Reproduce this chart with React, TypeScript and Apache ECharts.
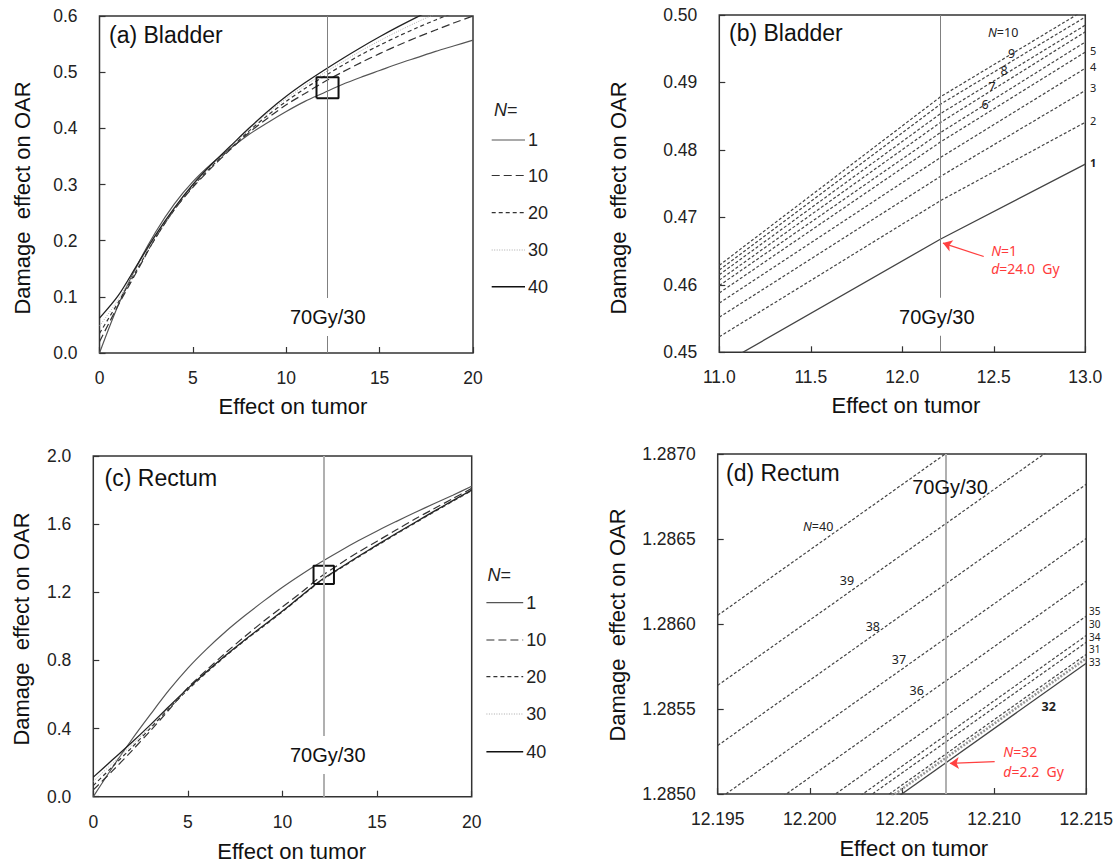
import React, { useEffect, useRef } from 'react';
import * as echarts from 'echarts';

const FONT = '"Liberation Sans", Arial, Helvetica, sans-serif';
const SMALL = '"Noto Sans", "Open Sans", sans-serif';

// ---------- Panel (a) Bladder ----------
const aX = [0, 1, 2, 3, 4, 5, 6, 7, 8, 9, 10, 11, 12, 13, 14, 15, 16, 17, 18, 19, 20];
const aN1 = [0, 0.085, 0.155, 0.215, 0.265, 0.305, 0.337, 0.364, 0.389, 0.41, 0.43, 0.448, 0.463, 0.478, 0.491, 0.503, 0.515, 0.526, 0.537, 0.547, 0.557];
const aN10 = [0.02, 0.085, 0.145, 0.205, 0.255, 0.295, 0.33, 0.362, 0.392, 0.418, 0.442, 0.462, 0.482, 0.5, 0.517, 0.533, 0.548, 0.562, 0.575, 0.588, 0.6];
const aN20 = [0.035, 0.09, 0.148, 0.205, 0.255, 0.297, 0.332, 0.364, 0.395, 0.423, 0.448, 0.471, 0.492, 0.512, 0.531, 0.548, 0.564, 0.579, 0.593, 0.606, 0.618];
const aN30 = [0.048, 0.095, 0.152, 0.207, 0.256, 0.298, 0.334, 0.366, 0.398, 0.427, 0.453, 0.476, 0.498, 0.518, 0.538, 0.556, 0.573, 0.589, 0.604, 0.618, 0.631];
const aN40 = [0.062, 0.102, 0.156, 0.21, 0.258, 0.3, 0.336, 0.368, 0.4, 0.43, 0.457, 0.481, 0.503, 0.524, 0.544, 0.563, 0.581, 0.598, 0.614, 0.629, 0.643];
const aVline = 12.21;
const aBoxX = [11.62, 12.8, 12.8, 11.62, 11.62];
const aBoxY = [0.4535, 0.4535, 0.491, 0.491, 0.4535];

// ---------- Panel (b) Bladder zoom ----------
const bX = [11, 12.21, 13];
const bN1 = [0.448, 0.4668, 0.4779];
const bN2 = [0.4523, 0.4725, 0.4841];
const bN3 = [0.4552, 0.4761, 0.4888];
const bN4 = [0.4573, 0.4789, 0.4921];
const bN5 = [0.4588, 0.4812, 0.4945];
const bN6 = [0.4599, 0.4826, 0.496];
const bN7 = [0.4607, 0.4841, 0.4975];
const bN8 = [0.4615, 0.4854, 0.4985];
const bN9 = [0.4622, 0.4868, 0.4997];
const bN10 = [0.4629, 0.4879, 0.5008];
const bVline = 12.208;
const bArrowFrom = [12.445, 0.4642];
const bArrowTo = [12.222, 0.4662];

// ---------- Panel (c) Rectum ----------
const cX = [0, 1, 2, 3, 4, 5, 6, 7, 8, 9, 10, 11, 12, 13, 14, 15, 16, 17, 18, 19, 20];
const cN1 = [0, 0.17, 0.33, 0.48, 0.625, 0.755, 0.868, 0.97, 1.062, 1.148, 1.23, 1.305, 1.375, 1.44, 1.502, 1.56, 1.615, 1.668, 1.72, 1.77, 1.822];
const cN10 = [0.04, 0.15, 0.265, 0.385, 0.51, 0.64, 0.745, 0.845, 0.94, 1.03, 1.115, 1.2, 1.29, 1.365, 1.435, 1.5, 1.565, 1.63, 1.69, 1.75, 1.81];
const cN20 = [0.065, 0.175, 0.285, 0.4, 0.518, 0.628, 0.73, 0.826, 0.916, 1.001, 1.086, 1.176, 1.264, 1.336, 1.406, 1.474, 1.541, 1.606, 1.671, 1.734, 1.797];
const cN30 = [0.09, 0.195, 0.3, 0.41, 0.524, 0.632, 0.733, 0.828, 0.918, 1.003, 1.088, 1.178, 1.266, 1.338, 1.408, 1.476, 1.543, 1.608, 1.673, 1.736, 1.799];
const cN40 = [0.115, 0.215, 0.315, 0.42, 0.53, 0.636, 0.735, 0.83, 0.92, 1.005, 1.09, 1.18, 1.268, 1.34, 1.41, 1.478, 1.545, 1.61, 1.675, 1.738, 1.8];
const cVline = 12.2;
const cBoxX = [11.64, 12.72, 12.72, 11.64, 11.64];
const cBoxY = [1.249, 1.249, 1.356, 1.356, 1.249];

// ---------- Panel (d) Rectum zoom ----------
const dX = [12.195, 12.215];
const dN40 = [1.286051, 1.287588];
const dN39 = [1.285639, 1.287176];
const dN38 = [1.285285, 1.286822];
const dN37 = [1.284966, 1.286503];
const dN36 = [1.284714, 1.286251];
const dN35 = [1.284509, 1.286046];
const dN30 = [1.284395, 1.285932];
const dN34 = [1.284355, 1.285892];
const dN31 = [1.284284, 1.285821];
const dN33 = [1.284261, 1.285798];
const dN32 = [1.284232, 1.285769];
const dVline = 12.2074;
const dArrowFrom = [12.21003, 1.28519];
const dArrowTo = [12.2076, 1.28518];

// tick settings
const aXTicks = { min: 0, max: 20, interval: 5, dec: 0 };
const aYTicks = { min: 0, max: 0.6, interval: 0.1, dec: 1 };
const bXTicks = { min: 11, max: 13, interval: 0.5, dec: 1 };
const bYTicks = { min: 0.45, max: 0.5, interval: 0.01, dec: 2 };
const cXTicks = { min: 0, max: 20, interval: 5, dec: 0 };
const cYTicks = { min: 0, max: 2, interval: 0.4, dec: 1 };
const dXTicks = { min: 12.195, max: 12.215, interval: 0.005, dec: 3 };
const dYTicks = { min: 1.285, max: 1.287, interval: 0.0005, dec: 4 };

const pairs = (xs: number[], ys: number[]) => xs.map((x, i) => [x, ys[i]]);

const STY: Record<string, any> = {
  n1: { color: '#555', width: 1.2, type: 'solid' },
  n10: { color: '#333', width: 1.2, type: [8, 4] },
  n20: { color: '#333', width: 1.2, type: [4, 3] },
  n30: { color: '#aaa', width: 1, type: [1, 1.5] },
  n40: { color: '#222', width: 1.3, type: 'solid' },
  dash: { color: '#444', width: 1.2, type: [3, 2] },
  solid: { color: '#444', width: 1.3, type: 'solid' },
  band: { color: '#999', width: 2.6, type: [2, 1.5] },
  box: { color: '#111', width: 2, type: 'solid' },
};

function line(name: string, xs: number[], ys: number[], gi: number, sty: any, extra: any = {}) {
  return {
    type: 'line',
    name,
    xAxisIndex: gi,
    yAxisIndex: gi,
    data: pairs(xs, ys),
    showSymbol: false,
    symbol: 'none',
    smooth: xs.length > 3 ? 0.3 : false,
    clip: true,
    silent: true,
    lineStyle: { color: sty.color, width: sty.width, type: sty.type },
    itemStyle: { color: sty.color },
    ...extra,
  };
}

function vline(v: number, color: string, width: number) {
  return {
    silent: true,
    precision: 6,
    symbol: ['none', 'none'],
    label: { show: false },
    lineStyle: { color, width, type: 'solid' },
    data: [{ xAxis: v }],
  };
}

function arrow(from: number[], to: number[]) {
  return {
    silent: true,
    precision: 6,
    symbol: ['none', 'arrow'],
    symbolSize: 9,
    label: { show: false },
    lineStyle: { color: '#ff4040', width: 1.3, type: 'solid' },
    data: [[{ coord: from }, { coord: to }]],
  };
}

function xAx(gi: number, t: any) {
  return {
    type: 'value',
    gridIndex: gi,
    min: t.min,
    max: t.max,
    interval: t.interval,
    axisLine: { show: false },
    axisTick: { show: true, inside: true, length: 6, lineStyle: { color: '#333', width: 1.2 } },
    splitLine: { show: false },
    axisLabel: {
      margin: 16,
      fontSize: 17.5,
      fontFamily: FONT,
      color: '#222',
      formatter: (v: number) => v.toFixed(t.dec),
    },
  };
}

function yAx(gi: number, t: any) {
  return {
    type: 'value',
    gridIndex: gi,
    min: t.min,
    max: t.max,
    interval: t.interval,
    axisLine: { show: false },
    axisTick: { show: true, inside: true, length: 6, lineStyle: { color: '#333', width: 1.2 } },
    splitLine: { show: false },
    axisLabel: {
      margin: 22,
      fontSize: 17.5,
      fontFamily: FONT,
      color: '#222',
      formatter: (v: number) => v.toFixed(t.dec),
    },
  };
}

function txt(x: number, y: number, text: string, o: any = {}) {
  return {
    type: 'text',
    x,
    y,
    z: 100,
    silent: true,
    style: {
      text,
      fontFamily: FONT,
      fontSize: 20,
      fill: '#111',
      align: 'left',
      verticalAlign: 'middle',
      ...o,
    },
  };
}

function ital(x: number, y: number, text: string, size: number, family: string, fill: string, o: any = {}) {
  return txt(x, y, text, {
    fontFamily: family,
    fontSize: size,
    fill,
    rich: {
      i: { fontStyle: 'italic', fontFamily: family, fontSize: size, fill },
      n: { fontFamily: family, fontSize: size, fill },
    },
    ...o,
  });
}

function small(x: number, y: number, text: string, o: any = {}) {
  return txt(x, y, text, { fontFamily: SMALL, fontSize: 12.5, fill: '#222', ...o });
}

function legendItem(x1: number, x2: number, y: number, label: string, sty: any) {
  return [
    {
      type: 'line',
      z: 100,
      silent: true,
      shape: { x1, y1: y, x2, y2: y },
      style: {
        stroke: sty.color,
        lineWidth: sty.width,
        lineDash: Array.isArray(sty.type) ? sty.type : null,
      },
    },
    txt(x2 + 3, y, label, { fontSize: 18, fill: '#222' }),
  ];
}

export default function App() {
  const ref = useRef<HTMLDivElement>(null);

  useEffect(() => {
    document.body.style.margin = '0';
    if (!ref.current) return;
    const chart = echarts.init(ref.current, undefined, { renderer: 'svg' });

    const legendYsA = [140, 175.5, 212.7, 250, 286.7];
    const legendYsC = [602.7, 640, 676.7, 714, 751.7];
    const legendLabels = ['1', '10', '20', '30', '40'];
    const legendSty = [STY.n1, STY.n10, STY.n20, STY.n30, { ...STY.n40, color: '#111', width: 1.6 }];
    const tight = { fontSize: 10, lineHeight: 10 };
    const tightB = { fontSize: 11, lineHeight: 11 };

    const graphic: any[] = [
      // panel titles
      txt(109, 35, '(a) Bladder', { fontSize: 23 }),
      txt(729, 33, '(b) Bladder', { fontSize: 23 }),
      txt(104.6, 478, '(c) Rectum', { fontSize: 23 }),
      txt(726, 473, '(d) Rectum', { fontSize: 23 }),
      // 70Gy/30 labels
      txt(327.7, 317, '70Gy/30', { align: 'center', backgroundColor: '#fff', padding: [9, 1] }),
      txt(936.8, 316.7, '70Gy/30', { align: 'center', backgroundColor: '#fff', padding: [9, 1] }),
      txt(327.7, 755, '70Gy/30', { align: 'center', backgroundColor: '#fff', padding: [9, 1] }),
      txt(950, 486.7, '70Gy/30', { align: 'center' }),
      // axis titles
      txt(293, 406.7, 'Effect on tumor', { fontSize: 22, align: 'center' }),
      txt(906, 405, 'Effect on tumor', { fontSize: 22, align: 'center' }),
      txt(291.6, 851.7, 'Effect on tumor', { fontSize: 22, align: 'center' }),
      txt(913.8, 848.3, 'Effect on tumor', { fontSize: 22, align: 'center' }),
      { ...txt(22, 198, 'Damage  effect on OAR', { fontSize: 22, align: 'center' }), rotation: Math.PI / 2 },
      { ...txt(618.6, 198, 'Damage  effect on OAR', { fontSize: 22, align: 'center' }), rotation: Math.PI / 2 },
      { ...txt(21, 629, 'Damage  effect on OAR', { fontSize: 22, align: 'center' }), rotation: Math.PI / 2 },
      { ...txt(617, 625, 'Damage  effect on OAR', { fontSize: 22, align: 'center' }), rotation: Math.PI / 2 },
      // legends
      ital(494, 110, '{i|N}{n|=}', 18, FONT, '#222'),
      ital(487.5, 575, '{i|N}{n|=}', 18, FONT, '#222'),
      // panel (b) labels
      ital(988, 32.7, '{i|N}{n|=10}', 12.5, SMALL, '#222'),
      small(1011.7, 53, '9', { align: 'center' }),
      small(1004, 70.7, '8', { align: 'center' }),
      small(992, 86.7, '7', { align: 'center' }),
      small(985, 104, '6', { align: 'center' }),
      small(1090, 50, '5', tightB),
      small(1090, 66, '4', tightB),
      small(1090, 87.3, '3', tightB),
      small(1090, 120.7, '2', tightB),
      small(1090, 162.7, '1', { ...tightB, fontWeight: 'bold' }),
      ital(991.2, 250, '{i|N}{n|=1}', 14, SMALL, '#ff3b3b'),
      ital(991.2, 268.3, '{i|d}{n|=24.0  Gy}', 14, SMALL, '#ff3b3b'),
      // panel (d) labels
      ital(803, 526.7, '{i|N}{n|=40}', 12.5, SMALL, '#222'),
      small(847, 580, '39', { align: 'center' }),
      small(872.8, 626.7, '38', { align: 'center' }),
      small(899, 659, '37', { align: 'center' }),
      small(916.7, 690, '36', { align: 'center' }),
      small(1089, 611, '35', tight),
      small(1089, 624, '30', tight),
      small(1089, 636.5, '34', tight),
      small(1089, 649, '31', tight),
      small(1089, 661.5, '33', tight),
      small(1048.7, 706, '32', { align: 'center', fontWeight: 'bold' }),
      ital(1003.3, 751.7, '{i|N}{n|=32}', 14, SMALL, '#ff3b3b'),
      ital(1003.3, 771.7, '{i|d}{n|=2.2  Gy}', 14, SMALL, '#ff3b3b'),
    ];
    legendLabels.forEach((lab, i) => {
      graphic.push(...legendItem(491.7, 525, legendYsA[i], lab, legendSty[i]));
      graphic.push(...legendItem(486.4, 523.2, legendYsC[i], lab, legendSty[i]));
    });

    const series: any[] = [
      // (a)
      line('a N=1', aX, aN1, 0, STY.n1, { markLine: vline(aVline, '#808080', 1) }),
      line('a N=10', aX, aN10, 0, STY.n10),
      line('a N=20', aX, aN20, 0, STY.n20),
      line('a N=30', aX, aN30, 0, STY.n30),
      line('a N=40', aX, aN40, 0, STY.n40),
      line('a box', aBoxX, aBoxY, 0, STY.box, { smooth: false }),
      // (b)
      line('b N=1', bX, bN1, 1, STY.solid, { markLine: vline(bVline, '#808080', 1) }),
      line('b N=2', bX, bN2, 1, STY.dash, { markLine: arrow(bArrowFrom, bArrowTo) }),
      line('b N=3', bX, bN3, 1, STY.dash),
      line('b N=4', bX, bN4, 1, STY.dash),
      line('b N=5', bX, bN5, 1, STY.dash),
      line('b N=6', bX, bN6, 1, STY.dash),
      line('b N=7', bX, bN7, 1, STY.dash),
      line('b N=8', bX, bN8, 1, STY.dash),
      line('b N=9', bX, bN9, 1, STY.dash),
      line('b N=10', bX, bN10, 1, STY.dash),
      // (c)
      line('c N=1', cX, cN1, 2, STY.n1, { markLine: vline(cVline, '#b0b0b0', 2) }),
      line('c N=10', cX, cN10, 2, STY.n10),
      line('c N=20', cX, cN20, 2, STY.n20),
      line('c N=30', cX, cN30, 2, STY.n30),
      line('c N=40', cX, cN40, 2, STY.n40),
      line('c box', cBoxX, cBoxY, 2, STY.box, { smooth: false }),
      // (d)
      line('d N=40', dX, dN40, 3, STY.dash, { markLine: vline(dVline, '#b0b0b0', 2) }),
      line('d N=39', dX, dN39, 3, STY.dash),
      line('d N=38', dX, dN38, 3, STY.dash),
      line('d N=37', dX, dN37, 3, STY.dash),
      line('d N=36', dX, dN36, 3, STY.dash),
      line('d N=35', dX, dN35, 3, STY.dash),
      line('d N=30', dX, dN30, 3, STY.dash),
      line('d N=34', dX, dN34, 3, STY.dash),
      line('d N=33', dX, dN33, 3, STY.band),
      line('d N=31', dX, dN31, 3, STY.dash),
      line('d N=32', dX, dN32, 3, STY.solid, { markLine: arrow(dArrowFrom, dArrowTo) }),
    ];

    const gridBase = { show: true, borderColor: '#333', borderWidth: 1.5, backgroundColor: 'transparent', containLabel: false };

    chart.setOption({
      animation: false,
      backgroundColor: '#fff',
      textStyle: { fontFamily: FONT },
      grid: [
        { ...gridBase, left: 99.5, top: 16, width: 373.5, height: 337 },
        { ...gridBase, left: 719.3, top: 15, width: 366, height: 337.3 },
        { ...gridBase, left: 93.3, top: 456, width: 378.4, height: 340.7 },
        { ...gridBase, left: 717.7, top: 454, width: 369, height: 340 },
      ],
      xAxis: [xAx(0, aXTicks), xAx(1, bXTicks), xAx(2, cXTicks), xAx(3, dXTicks)],
      yAxis: [yAx(0, aYTicks), yAx(1, bYTicks), yAx(2, cYTicks), yAx(3, dYTicks)],
      series,
      graphic,
    });

    return () => chart.dispose();
  }, []);

  return <div ref={ref} style={{ position: 'absolute', left: 0, top: 0, width: 1116, height: 866 }} />;
}
